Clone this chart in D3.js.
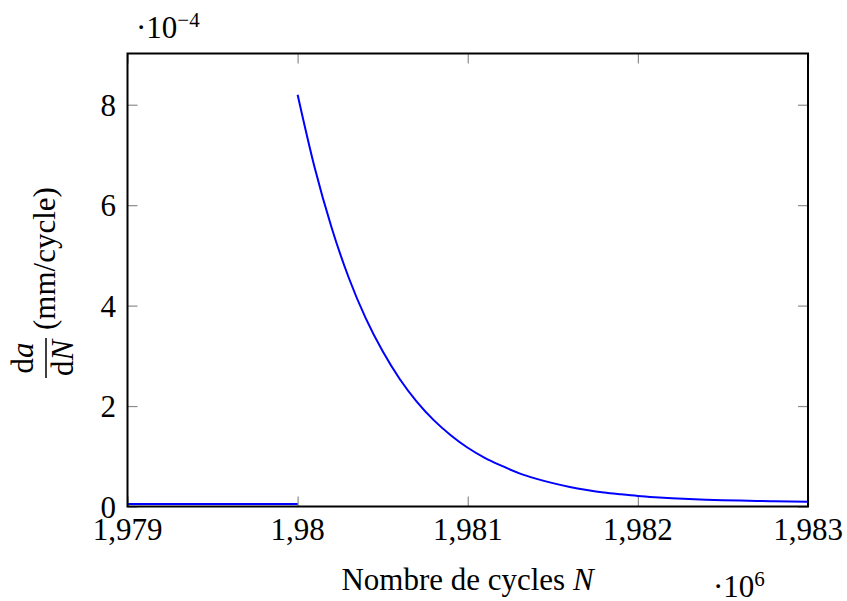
<!DOCTYPE html>
<html>
<head>
<meta charset="utf-8">
<script src="https://cdn.jsdelivr.net/npm/d3@7"></script>
<style>
  html, body { margin: 0; padding: 0; background: #fff; }
  svg { display: block; }
  text { font-family: "Liberation Serif", "Times New Roman", serif; fill: #000; }
</style>
</head>
<body>
<svg id="chart" width="847" height="601" font-family="Liberation Serif"></svg>
<script>
// ---- data (N in cycles, rate in mm/cycle) ----
const flatN = [1979000, 1980000];
const flatRate = [5e-6, 5e-6];

const curveN = [1980000, 1980100, 1980200, 1980300, 1980400, 1980500, 1980600, 1980700,
  1980800, 1980900, 1981000, 1981100, 1981200, 1981300, 1981400, 1981500, 1981600,
  1981700, 1981800, 1981900, 1982000, 1982100, 1982200, 1982300, 1982400, 1982500,
  1982600, 1982700, 1982800, 1982900, 1983000];
const curveRate = [8.2e-4, 6.75e-4, 5.55e-4, 4.56e-4, 3.75e-4, 3.09e-4, 2.54e-4, 2.09e-4,
  1.72e-4, 1.42e-4, 1.17e-4, 0.97e-4, 0.81e-4, 0.665e-4, 0.555e-4, 0.465e-4, 0.39e-4,
  0.33e-4, 0.28e-4, 0.243e-4, 0.21e-4, 0.185e-4, 0.165e-4, 0.148e-4, 0.135e-4, 0.125e-4,
  0.117e-4, 0.11e-4, 0.104e-4, 0.099e-4, 0.095e-4];

const xTickValues = [1979000, 1980000, 1981000, 1982000, 1983000];
const xTickLabels = ["1,979", "1,98", "1,981", "1,982", "1,983"];
const yTickValues = [0, 2e-4, 4e-4, 6e-4, 8e-4];
const yTickLabels = ["0", "2", "4", "6", "8"];
const xDomain = [1979000, 1983000];
const yDomain = [0, 9.02e-4];

// ---- layout ----
const svg = d3.select("#chart");
const mLeft = 127.5, mRight = 808, mTop = 53.5, mBottom = 506.5;
const fs = 31;
const x = d3.scaleLinear().domain(xDomain).range([mLeft, mRight]);
const y = d3.scaleLinear().domain(yDomain).range([mBottom, mTop]);

// ticks (inside, all four sides)
const tickLen = 10;
const tickColor = "#8c8c8c";
const gx = svg.append("g").attr("transform", `translate(0,${mBottom})`)
  .call(d3.axisBottom(x).tickValues(xTickValues).tickSize(-tickLen).tickFormat(""));
const gxt = svg.append("g").attr("transform", `translate(0,${mTop})`)
  .call(d3.axisTop(x).tickValues(xTickValues).tickSize(-tickLen).tickFormat(""));
const gy = svg.append("g").attr("transform", `translate(${mLeft},0)`)
  .call(d3.axisLeft(y).tickValues(yTickValues).tickSize(-tickLen).tickFormat(""));
const gyr = svg.append("g").attr("transform", `translate(${mRight},0)`)
  .call(d3.axisRight(y).tickValues(yTickValues).tickSize(-tickLen).tickFormat(""));
[gx, gxt, gy, gyr].forEach(g => {
  g.select(".domain").remove();
  g.selectAll(".tick line").attr("stroke", tickColor).attr("stroke-width", 1.2);
});

// lines
const line = d3.line().x(d => x(d[0])).y(d => y(d[1]));
const smooth = d3.line().x(d => x(d[0])).y(d => y(d[1])).curve(d3.curveMonotoneX);
svg.append("path")
  .attr("d", line(flatN.map((n, i) => [n, flatRate[i]])))
  .attr("fill", "none").attr("stroke", "#0000ff").attr("stroke-width", 2);
svg.append("path")
  .attr("d", smooth(curveN.map((n, i) => [n, curveRate[i]])))
  .attr("fill", "none").attr("stroke", "#0000ff").attr("stroke-width", 2)
  .attr("stroke-linejoin", "round");

// frame
svg.append("rect").attr("x", mLeft).attr("y", mTop)
  .attr("width", mRight - mLeft).attr("height", mBottom - mTop)
  .attr("fill", "none").attr("stroke", "#000").attr("stroke-width", 2);

// x tick labels
svg.append("g").selectAll("text").data(xTickValues).join("text")
  .attr("x", d => x(d)).attr("y", 540)
  .attr("text-anchor", "middle").style("font-size", fs + "px")
  .text((d, i) => xTickLabels[i]);

// y tick labels
svg.append("g").selectAll("text").data(yTickValues).join("text")
  .attr("x", 116).attr("y", d => y(d) + 11)
  .attr("text-anchor", "end").style("font-size", fs + "px")
  .text((d, i) => yTickLabels[i]);

// x label
const xl = svg.append("text").attr("x", 467.5).attr("y", 590)
  .attr("text-anchor", "middle").style("font-size", fs + "px");
xl.append("tspan").text("Nombre de cycles ");
xl.append("tspan").attr("font-style", "italic").text("N");

// x multiplier
const xm = svg.append("text").attr("x", 713).attr("y", 597).style("font-size", fs + "px");
xm.append("tspan").text("·10");
xm.append("tspan").style("font-size", "21px").attr("dy", -11).text("6");

// y multiplier
const ym = svg.append("text").attr("x", 136).attr("y", 38).style("font-size", fs + "px");
ym.append("tspan").text("·10");
ym.append("tspan").style("font-size", "21px").attr("dy", -11).text("−4");

// y label (rotated, with fraction)
const yl = svg.append("g").attr("transform", "translate(47,278) rotate(-90)");
const fracC = -80;
const num = yl.append("text").attr("x", fracC).attr("y", -14)
  .attr("text-anchor", "middle").style("font-size", fs + "px");
num.append("tspan").text("d");
num.append("tspan").attr("font-style", "italic").text("a");
yl.append("line").attr("x1", fracC - 20).attr("x2", fracC + 20)
  .attr("y1", -1).attr("y2", -1).attr("stroke", "#000").attr("stroke-width", 1.5);
const den = yl.append("text").attr("x", fracC).attr("y", 26)
  .attr("text-anchor", "middle").style("font-size", fs + "px");
den.append("tspan").text("d");
den.append("tspan").attr("font-style", "italic").text("N");
yl.append("text").attr("x", -52).attr("y", 8)
  .style("font-size", fs + "px").text("(mm/cycle)");
</script>
</body>
</html>
